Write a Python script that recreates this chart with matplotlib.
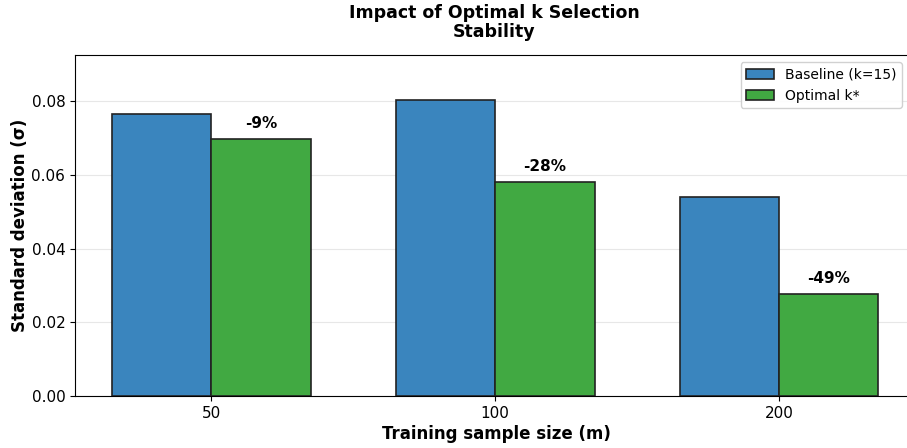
import numpy as np
import matplotlib
matplotlib.use("Agg")
import matplotlib.pyplot as plt

# Datos
tamanos = ["50", "100", "200"]
baseline = [0.0765, 0.0805, 0.0541]
optimal = [0.0697, 0.0582, 0.0278]
reducciones = ["-9%", "-28%", "-49%"]

fig = plt.figure(figsize=(9.07, 4.48), dpi=100)
ax = fig.add_axes([0.0827, 0.116, 0.9297, 0.761])

x = np.arange(len(tamanos))
ancho = 0.35

ax.bar(x - ancho / 2, baseline, ancho, color="#3A85BE", edgecolor="#222222",
       linewidth=1.2, label="Baseline (k=15)", zorder=3)
ax.bar(x + ancho / 2, optimal, ancho, color="#41A942", edgecolor="#222222",
       linewidth=1.2, label="Optimal k*", zorder=3)

# Etiquetas de reducción sobre las barras
for i, (v, r) in enumerate(zip(optimal, reducciones)):
    ax.text(x[i] + ancho / 2, v + 0.0022, r, ha="center", va="bottom",
            fontsize=11, fontweight="bold")

ax.set_xticks(x)
ax.set_xticklabels(tamanos, fontsize=11)
ax.tick_params(axis="y", labelsize=11)
ax.set_xlim(-0.48, 2.49)
ax.set_ylim(0, max(baseline) * 1.15)
ax.set_yticks([0.0, 0.02, 0.04, 0.06, 0.08])
ax.yaxis.set_major_formatter(matplotlib.ticker.FormatStrFormatter("%.2f"))

ax.set_xlabel("Training sample size (m)", fontsize=12, fontweight="bold", labelpad=3)
ax.set_ylabel("Standard deviation (σ)", fontsize=12, fontweight="bold", labelpad=2)
fig.text(0.545, 0.99, "Impact of Optimal k Selection\nStability", ha="center", va="top",
         fontsize=12.5, fontweight="bold", linespacing=1.05)

ax.grid(axis="y", color="#dddddd", alpha=0.7, zorder=0)
ax.legend(loc="upper right", bbox_to_anchor=(0.989, 1.0), fontsize=10, framealpha=0.9)

fig.savefig("out.png", dpi=100)
